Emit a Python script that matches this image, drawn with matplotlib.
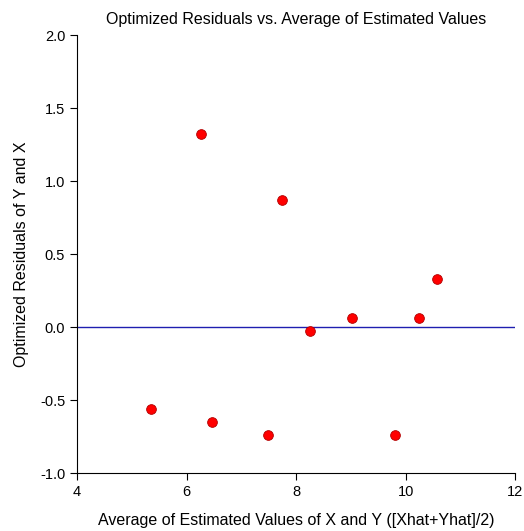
import matplotlib
import matplotlib.pyplot as plt

matplotlib.use("agg")

plt.rcParams["font.family"] = ["Liberation Sans", "DejaVu Sans"]

# Data
avg_estimated = [5.35, 6.26, 6.47, 7.49, 7.75, 8.25, 9.03, 9.81, 10.25, 10.57]
residuals = [-0.558, 1.323, -0.647, -0.741, 0.873, -0.024, 0.065, -0.741, 0.065, 0.332]

x_ticks = [4, 6, 8, 10, 12]
y_ticks = [-1.0, -0.5, 0.0, 0.5, 1.0, 1.5, 2.0]

fig = plt.figure(figsize=(5.24, 5.31), dpi=100)
ax = fig.add_axes([0.147, 0.109, 0.836, 0.825])

ax.axhline(0.0, color="#1f1fb0", linewidth=1.0, zorder=1)
ax.plot(avg_estimated, residuals, "o", markersize=7, markerfacecolor="#ff0000",
        markeredgecolor="#b00000", markeredgewidth=0.6, zorder=3)

ax.set_xlim(4, 12)
ax.set_ylim(-1.0, 2.0)
ax.set_xticks(x_ticks)
ax.set_yticks(y_ticks)
ax.set_yticklabels([f"{v:.1f}" for v in y_ticks])

for side in ["top", "right"]:
    ax.spines[side].set_visible(False)
for side in ["left", "bottom"]:
    ax.spines[side].set_linewidth(0.8)

ax.tick_params(direction="out", length=5, width=0.8, labelsize=10.5)

ax.set_title("Optimized Residuals vs. Average of Estimated Values", fontsize=11.5, pad=8)
ax.set_xlabel("Average of Estimated Values of X and Y ([Xhat+Yhat]/2)", fontsize=11.5, labelpad=10)
ax.set_ylabel("Optimized Residuals of Y and X", fontsize=11.5, labelpad=8)

fig.savefig("out.png", dpi=100)
plt.close(fig)
